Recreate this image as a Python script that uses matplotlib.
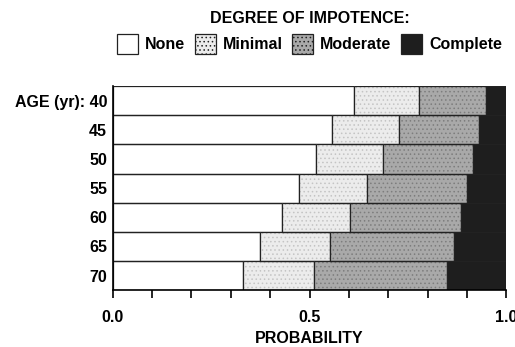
import matplotlib.pyplot as plt
import numpy as np

plt.rcParams["font.family"] = ["Liberation Sans", "DejaVu Sans"]
plt.rcParams["font.weight"] = "bold"
plt.rcParams["axes.labelweight"] = "bold"
plt.rcParams["hatch.linewidth"] = 0.6

ages = ["40", "45", "50", "55", "60", "65", "70"]
none = [0.613, 0.557, 0.516, 0.473, 0.430, 0.375, 0.331]
minimal = [0.164, 0.171, 0.171, 0.172, 0.173, 0.177, 0.180]
moderate = [0.171, 0.203, 0.228, 0.255, 0.282, 0.316, 0.339]
complete = [0.052, 0.069, 0.085, 0.100, 0.115, 0.132, 0.150]

labels = ["None", "Minimal", "Moderate", "Complete"]
colors = ["white", "#ececec", "#a9a9a9", "#1e1e1e"]
hatches = [None, "....", "....", None]
hatch_colors = ["#333333", "#c4c4c4", "#7d7d7d", "#1e1e1e"]

fig = plt.figure(figsize=(5.15, 3.47), dpi=100)
ax = fig.add_axes([0.219, 0.164, 0.764, 0.588])

y = np.arange(len(ages))
left = np.zeros(len(ages))
handles = []
for vals, lab, col, hat, hcol in zip([none, minimal, moderate, complete],
                                     labels, colors, hatches, hatch_colors):
    bars = ax.barh(y, vals, left=left, height=1.0, color=col, hatch=hat,
                   edgecolor=hcol, linewidth=0.0, label=lab)
    # outline each segment separately so the hatch colour stays subtle
    ax.barh(y, vals, left=left, height=1.0, fill=False,
            edgecolor="#222222", linewidth=0.9)
    handles.append(bars)
    left += np.array(vals)

ax.set_ylim(len(ages) - 0.5, -0.5)
ax.set_xlim(0, 1.0)
ax.set_yticks(y)
ax.set_yticklabels(["AGE (yr): " + ages[0]] + ages[1:])
ax.set_xticks([0.0, 0.5, 1.0])
ax.set_xticklabels(["0.0", "0.5", "1.0"])
ax.set_xticks(np.arange(0, 1.01, 0.1), minor=True)
ax.tick_params(axis="x", which="both", length=6, width=1.2, direction="out",
               labelsize=11.5, pad=8)
ax.tick_params(axis="y", length=0, labelsize=11.5, pad=4)
for s in ["top", "right"]:
    ax.spines[s].set_visible(False)
for s in ["left", "bottom"]:
    ax.spines[s].set_linewidth(1.2)
ax.set_xlabel("PROBABILITY", fontsize=11.5, fontweight="bold", labelpad=5)

leg = ax.legend(handles=handles, ncol=4, loc="lower center",
                bbox_to_anchor=(0.5, 1.155), frameon=False, fontsize=11.5,
                handlelength=1.3, handleheight=1.6, handletextpad=0.45,
                columnspacing=0.6, borderaxespad=0, borderpad=0,
                title="DEGREE OF IMPOTENCE:",
                title_fontproperties={"weight": "bold", "size": 11.5})
for p in leg.get_patches():
    p.set_edgecolor("#222222")
    p.set_linewidth(0.9)

fig.savefig("out.png", dpi=100)
